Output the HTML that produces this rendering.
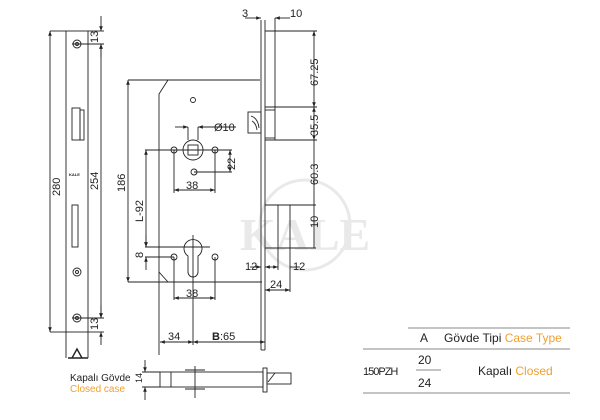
<!DOCTYPE html>
<html><head><meta charset="utf-8"><style>
html,body{margin:0;padding:0;background:#fff;}
svg{display:block;}
text{font-family:"Liberation Sans",sans-serif;fill:#222;}
</style></head><body>
<svg width="600" height="420" viewBox="0 0 600 420" xmlns="http://www.w3.org/2000/svg">
<defs><marker id="a" viewBox="0 0 8 6" refX="8" refY="3" markerWidth="6" markerHeight="4" orient="auto-start-reverse"><path d="M0,0L8,3L0,6z" fill="#222"/></marker></defs>
<g opacity="0.18" fill="none" stroke="#888" stroke-width="3">
<circle cx="305" cy="225" r="45"/>
<text x="305" y="250" text-anchor="middle" font-size="46" font-weight="bold" style="fill:#888;font-family:'Liberation Serif',serif" stroke="none">KALE</text>
</g>
<g fill="none" stroke="#222" stroke-width="0.9">
<rect x="66" y="31" width="22" height="301"/>
<line x1="66" y1="332" x2="66" y2="358"/><line x1="88" y1="332" x2="88" y2="358"/>
<rect x="72" y="108" width="8" height="32"/><rect x="80" y="110" width="4" height="30"/>
<rect x="72" y="205" width="6" height="42"/>
<circle cx="77" cy="44" r="4"/><circle cx="77" cy="44" r="1.5"/>
<circle cx="77" cy="272" r="4"/><circle cx="77" cy="272" r="1.5"/>
<circle cx="77" cy="318" r="4"/><circle cx="77" cy="318" r="1.5"/>
<line x1="72" y1="44" x2="104" y2="44"/><line x1="72" y1="318" x2="104" y2="318"/>
<line x1="50" y1="31" x2="66" y2="31"/><line x1="50" y1="332" x2="66" y2="332"/>
<line x1="50" y1="31" x2="50" y2="332" marker-start="url(#a)" marker-end="url(#a)"/>
<line x1="101" y1="44" x2="101" y2="318" marker-start="url(#a)" marker-end="url(#a)"/>
<line x1="101" y1="16" x2="101" y2="31" marker-end="url(#a)"/><line x1="101" y1="57" x2="101" y2="44" marker-end="url(#a)"/>
<line x1="88" y1="31" x2="104" y2="31"/>
<line x1="88" y1="332" x2="104" y2="332"/>
<line x1="101" y1="305" x2="101" y2="318" marker-end="url(#a)"/><line x1="101" y1="345" x2="101" y2="332" marker-end="url(#a)"/>
<polyline points="260,80 128,80"/>
<polyline points="168,80 159,94 159,355"/>
<line x1="128" y1="282" x2="262" y2="282"/>
<line x1="159" y1="272" x2="168" y2="282"/>
<line x1="128" y1="80" x2="128" y2="282" marker-start="url(#a)" marker-end="url(#a)"/>
<line x1="261" y1="20" x2="261" y2="350"/><line x1="265" y1="20" x2="265" y2="350"/><line x1="261" y1="350" x2="265" y2="350"/>
<line x1="275" y1="18" x2="275" y2="140"/><line x1="265" y1="31" x2="317" y2="31"/>
<line x1="265" y1="107" x2="317" y2="107"/><line x1="265" y1="110" x2="275" y2="110"/>
<line x1="265" y1="138" x2="275" y2="138"/><line x1="265" y1="140" x2="317" y2="140"/>
<rect x="248" y="112" width="13" height="21"/><path d="M251,116 Q258,118 259,128 M252,121 Q256,123 257,130"/>
<line x1="314" y1="31" x2="314" y2="107" marker-start="url(#a)" marker-end="url(#a)"/>
<line x1="314" y1="107" x2="314" y2="140" marker-start="url(#a)" marker-end="url(#a)"/>
<line x1="314" y1="140" x2="314" y2="248" />
<line x1="265" y1="205" x2="316" y2="205"/><line x1="265" y1="248" x2="316" y2="248"/>
<line x1="278" y1="205" x2="278" y2="270"/><line x1="290" y1="205" x2="290" y2="292"/>
<line x1="250" y1="267" x2="261" y2="267" marker-end="url(#a)"/><line x1="265" y1="267" x2="278" y2="267" marker-start="url(#a)" marker-end="url(#a)"/><line x1="290" y1="267" x2="300" y2="267"/>
<line x1="265" y1="290" x2="290" y2="290" marker-start="url(#a)" marker-end="url(#a)"/>
<line x1="245" y1="18" x2="261" y2="18" marker-end="url(#a)"/><line x1="290" y1="18" x2="275" y2="18" marker-end="url(#a)"/>
<circle cx="193" cy="150" r="10"/><rect x="188" y="145" width="10" height="10"/>
<line x1="188" y1="127" x2="188" y2="140"/><line x1="198" y1="127" x2="198" y2="140"/>
<line x1="175" y1="127" x2="188" y2="127" marker-end="url(#a)"/><line x1="215" y1="127" x2="198" y2="127" marker-end="url(#a)"/><line x1="215" y1="127" x2="236" y2="127"/>
<circle cx="193" cy="100" r="2.5"/>
<circle cx="174" cy="150" r="3"/><circle cx="215" cy="150" r="3"/><circle cx="194" cy="172" r="3"/>
<line x1="145" y1="150" x2="232" y2="150"/><line x1="194" y1="172" x2="232" y2="172"/>
<line x1="230" y1="150" x2="230" y2="172" marker-start="url(#a)" marker-end="url(#a)"/>
<line x1="174" y1="150" x2="174" y2="193"/><line x1="215" y1="150" x2="215" y2="193"/>
<line x1="174" y1="190" x2="215" y2="190" marker-start="url(#a)" marker-end="url(#a)"/>
<path d="M188,256 A9,9 0 1 1 198,256 L198,272 A5,5 0 0 1 188,272 Z"/>
<line x1="193" y1="235" x2="193" y2="345"/><line x1="145" y1="247" x2="210" y2="247"/>
<circle cx="174" cy="257" r="3"/><circle cx="215" cy="257" r="3"/>
<line x1="145" y1="257" x2="174" y2="257"/>
<line x1="174" y1="257" x2="174" y2="300"/><line x1="215" y1="257" x2="215" y2="300"/>
<line x1="174" y1="298" x2="215" y2="298" marker-start="url(#a)" marker-end="url(#a)"/>
<line x1="146" y1="150" x2="146" y2="247" marker-start="url(#a)" marker-end="url(#a)"/>
<line x1="146" y1="235" x2="146" y2="247" marker-end="url(#a)"/><line x1="146" y1="270" x2="146" y2="257" marker-end="url(#a)"/>
<line x1="160" y1="342" x2="193" y2="342" marker-start="url(#a)" marker-end="url(#a)"/>
<line x1="193" y1="342" x2="265" y2="342" marker-start="url(#a)" marker-end="url(#a)"/>
<rect x="160" y="372" width="103" height="15"/><line x1="171" y1="372" x2="171" y2="387"/>
<line x1="185" y1="370" x2="205" y2="370"/><line x1="185" y1="389" x2="205" y2="389"/><line x1="195" y1="366" x2="195" y2="398"/>
<rect x="263" y="368" width="4" height="24"/><rect x="267" y="373" width="24" height="11"/><line x1="268" y1="382" x2="275" y2="373"/>
<line x1="142" y1="372" x2="160" y2="372"/><line x1="142" y1="387" x2="160" y2="387"/>
<line x1="145" y1="360" x2="145" y2="372" marker-end="url(#a)"/><line x1="145" y1="400" x2="145" y2="387" marker-end="url(#a)"/>
<path d="M68,358 L88,358 M72,358 L77,349 L82,358" stroke-width="1.4"/>
<line x1="408" y1="328" x2="570" y2="328" stroke="#888"/>
<line x1="363" y1="349" x2="570" y2="349" stroke="#888"/>
<line x1="363" y1="393" x2="570" y2="393" stroke="#888"/>
<line x1="416" y1="370" x2="441" y2="370" stroke="#888"/>
</g>
<g font-size="11">
<text transform="translate(60,196) rotate(-90)">280</text>
<text transform="translate(98,190) rotate(-90)">254</text>
<text transform="translate(98,43) rotate(-90)">13</text>
<text transform="translate(98,330) rotate(-90)">13</text>
<text transform="translate(125,192) rotate(-90)">186</text>
<text transform="translate(143,222) rotate(-90)">L-92</text>
<text transform="translate(143,258) rotate(-90)">8</text>
<text transform="translate(235,170) rotate(-90)">22</text>
<text x="186" y="189">38</text><text x="186" y="297">38</text>
<text x="214" y="131">Ø10</text>
<text x="168" y="340">34</text><text x="212" y="340"><tspan font-weight="bold">B</tspan>:65</text>
<text x="242" y="17">3</text><text x="290" y="17">10</text>
<text transform="translate(318,86) rotate(-90)">67.25</text>
<text transform="translate(318,136) rotate(-90)">35.5</text>
<text transform="translate(318,185) rotate(-90)">60.3</text>
<text transform="translate(318,228) rotate(-90)">10</text>
<text x="245" y="270">12</text><text x="293" y="270">12</text>
<text x="270" y="288">24</text>
<text transform="translate(142,383) rotate(-90)" font-size="9">14</text>
<text x="70" y="381" font-size="10">Kapalı Gövde</text>
<text x="70" y="392" font-size="10" style="fill:#f0a030">Closed case</text>
<text x="420" y="342" font-size="12">A</text>
<text x="444" y="342" font-size="12">Gövde Tipi <tspan style="fill:#f0a030">Case Type</tspan></text>
<text x="363" y="375" font-size="11" letter-spacing="-1">150PZH</text>
<text x="418" y="364" font-size="12">20</text><text x="418" y="387" font-size="12">24</text>
<text x="478" y="375" font-size="12">Kapalı <tspan style="fill:#f0a030">Closed</tspan></text>
<text x="69" y="176" font-size="4" font-weight="bold">KALE</text>
</g>
</svg>
</body></html>
